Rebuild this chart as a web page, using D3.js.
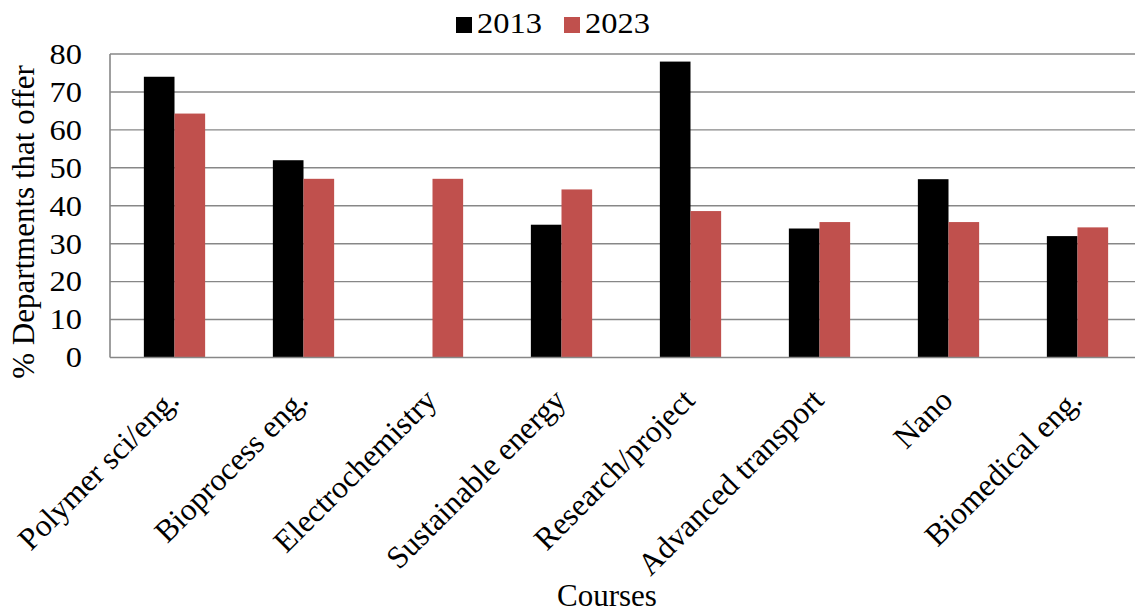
<!DOCTYPE html>
<html>
<head>
<meta charset="utf-8">
<script src="https://cdn.jsdelivr.net/npm/d3@7/dist/d3.min.js"></script>
<style>
  html, body { margin: 0; padding: 0; background: #fff; }
  svg { display: block; }
  text { font-family: "Liberation Serif", "Times New Roman", serif; fill: #000; }
</style>
</head>
<body>
<svg id="chart" width="1135" height="613"></svg>
<script>
// Course offerings in departments, 2013 vs 2023
const courses = ["Polymer sci/eng.", "Bioprocess eng.", "Electrochemistry", "Sustainable energy",
                 "Research/project", "Advanced transport", "Nano", "Biomedical eng."];
const years = ["2013", "2023"];
const values2013 = [74, 52, null, 35, 78, 34, 47, 32];
const values2023 = [64.3, 47.1, 47.1, 44.3, 38.6, 35.7, 35.7, 34.3];
const yTicks = [0, 10, 20, 30, 40, 50, 60, 70, 80];
const yTitle = "% Departments that offer";
const xTitle = "Courses";

const colors = { "2013": "#000000", "2023": "#C0504D" };
const series = { "2013": values2013, "2023": values2023 };

const svg = d3.select("#chart");
const plot = { left: 110, right: 1142, top: 54, bottom: 357.5 };
const tickStretch = 1.12;  // horizontal widening of tick and legend text

const x0 = d3.scaleBand()
  .domain(courses)
  .range([plot.left, plot.right])
  .paddingInner(0.525)
  .paddingOuter(0.2625);

const x1 = d3.scaleBand()
  .domain(years)
  .range([0, x0.bandwidth()]);

const y = d3.scaleLinear()
  .domain([0, 80])
  .range([plot.bottom, plot.top]);

// horizontal gridlines
svg.append("g")
  .selectAll("line")
  .data(yTicks.filter(t => t > 0))
  .join("line")
  .attr("x1", plot.left)
  .attr("x2", 1135)
  .attr("y1", d => y(d))
  .attr("y2", d => y(d))
  .attr("stroke", "#878787")
  .attr("stroke-width", 1.4);

// bars
const groups = svg.append("g")
  .selectAll("g")
  .data(courses)
  .join("g")
  .attr("transform", d => `translate(${x0(d)},0)`);

groups.selectAll("rect")
  .data((c, i) => years.map(yr => ({ year: yr, value: series[yr][i] })).filter(d => d.value != null))
  .join("rect")
  .attr("x", d => x1(d.year))
  .attr("width", x1.bandwidth())
  .attr("y", d => y(d.value))
  .attr("height", d => y(0) - y(d.value))
  .attr("fill", d => colors[d.year]);

// plot frame: left and bottom
svg.append("line")
  .attr("x1", plot.left).attr("x2", plot.left)
  .attr("y1", plot.top).attr("y2", plot.bottom)
  .attr("stroke", "#878787").attr("stroke-width", 1.6);
svg.append("line")
  .attr("x1", plot.left).attr("x2", 1135)
  .attr("y1", plot.bottom).attr("y2", plot.bottom)
  .attr("stroke", "#878787").attr("stroke-width", 1.6);

// y tick labels
svg.append("g")
  .selectAll("g")
  .data(yTicks)
  .join("g")
  .attr("transform", d => `translate(82,${y(d)}) scale(${tickStretch},1)`)
  .append("text")
  .attr("text-anchor", "end")
  .attr("dy", "0.34em")
  .style("font-size", "29px")
  .text(d => d);

// x category labels, rotated
svg.append("g")
  .selectAll("text")
  .data(courses)
  .join("text")
  .attr("transform", d => `translate(${x0(d) + x0.bandwidth() / 2 + 6},402) rotate(-45)`)
  .attr("text-anchor", "end")
  .style("font-size", "31.5px")
  .text(d => d);

// axis titles
svg.append("text")
  .attr("transform", "translate(34,222) rotate(-90)")
  .attr("text-anchor", "middle")
  .style("font-size", "31px")
  .text(yTitle);

svg.append("text")
  .attr("x", 607)
  .attr("y", 606)
  .attr("text-anchor", "middle")
  .style("font-size", "31px")
  .text(xTitle);

// legend
const legend = svg.append("g")
  .selectAll("g")
  .data(years)
  .join("g")
  .attr("transform", (d, i) => `translate(456,17) translate(${i * 108},0)`);

legend.append("rect")
  .attr("width", 16)
  .attr("height", 16)
  .attr("fill", d => colors[d]);

legend.append("g")
  .attr("transform", `translate(21,16) scale(${tickStretch},1)`)
  .append("text")
  .style("font-size", "29px")
  .text(d => d);
</script>
</body>
</html>
